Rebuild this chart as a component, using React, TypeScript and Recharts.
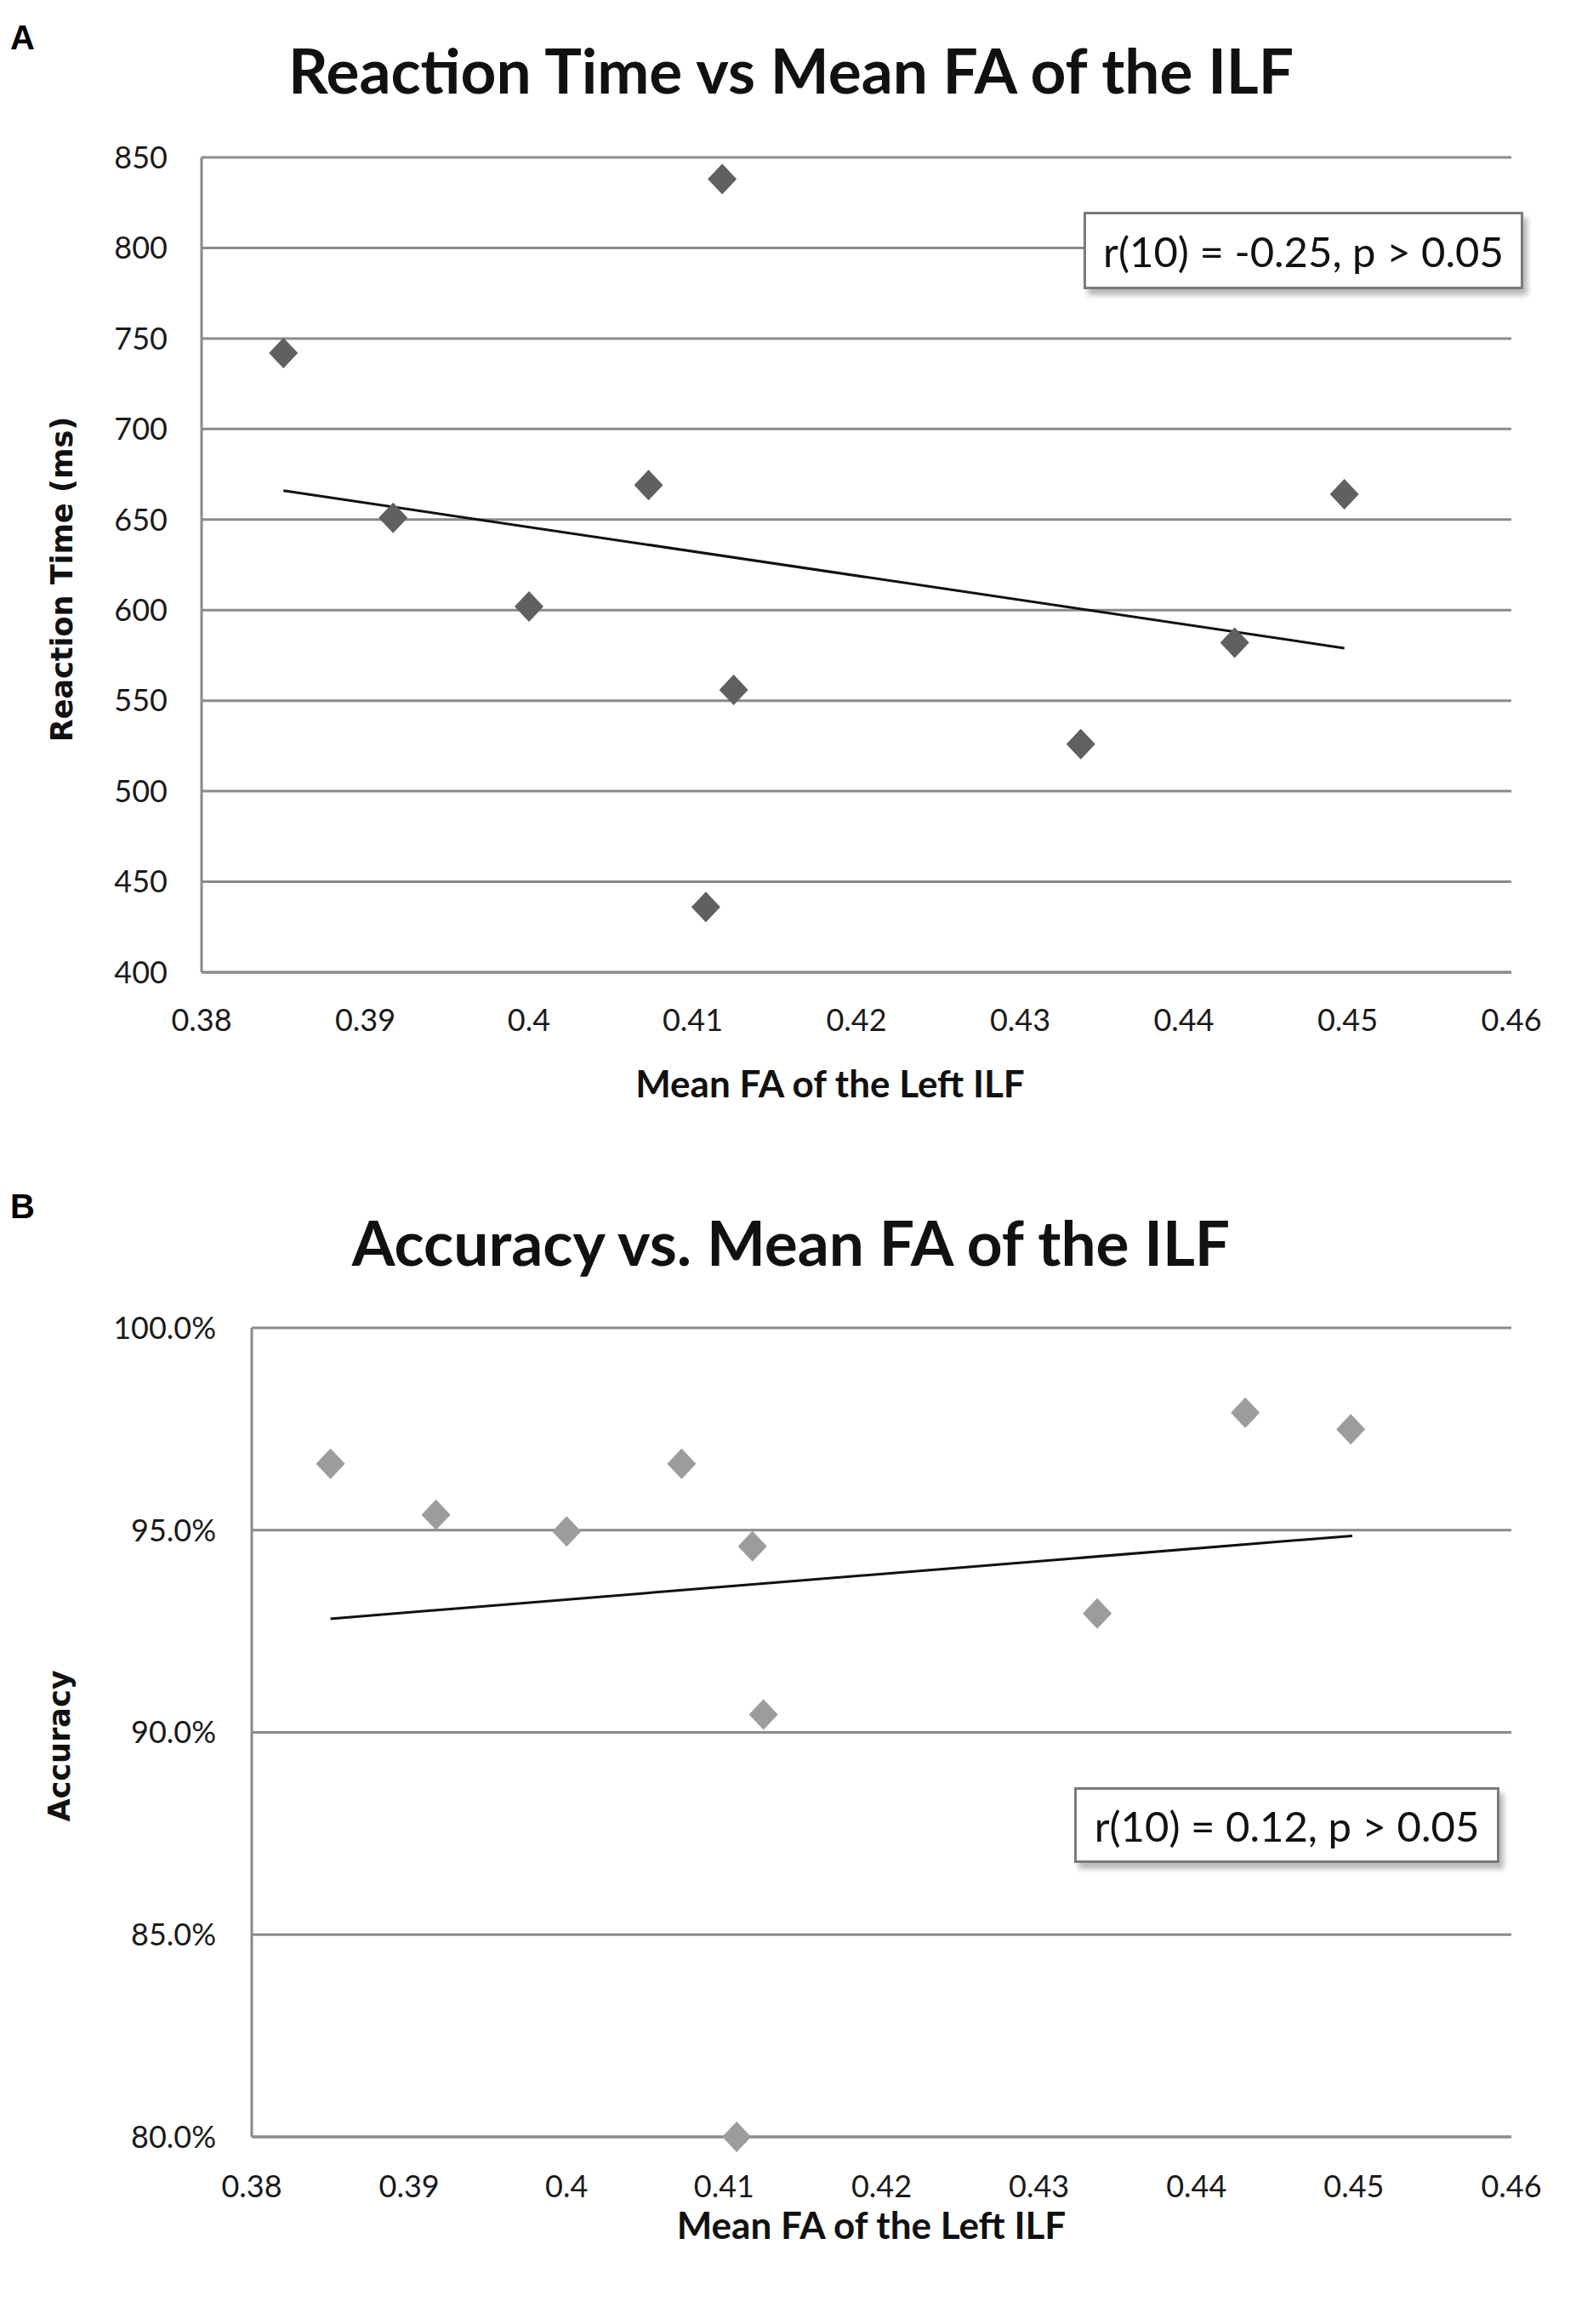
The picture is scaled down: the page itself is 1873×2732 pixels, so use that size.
import React from "react";
import {
  CartesianGrid,
  Label,
  ReferenceLine,
  Scatter,
  ScatterChart,
  XAxis,
  YAxis,
} from "recharts";

// mean FA of the left ILF, one value per participant (same order in both panels)
const faValues = [0.385, 0.3917, 0.4, 0.4073, 0.4118, 0.4125, 0.4108, 0.4337, 0.4431, 0.4498];
const reactionTimes = [742, 651, 602, 669, 838, 556, 436, 526, 582, 664];
const accuracies = [0.9664, 0.9538, 0.9497, 0.9664, 0.946, 0.9044, 0.8, 0.9294, 0.979, 0.9749];

// linear trendline end points as drawn
const rtTrendX = [0.385, 0.4498];
const rtTrendY = [666, 579];
const accTrendX = [0.385, 0.4499];
const accTrendY = [0.9281, 0.9486];

const faTicks = [0.38, 0.39, 0.4, 0.41, 0.42, 0.43, 0.44, 0.45, 0.46];
const rtTicks = [400, 450, 500, 550, 600, 650, 700, 750, 800, 850];
const accTicks = [0.8, 0.85, 0.9, 0.95, 1.0];

const rtData = faValues.map((x, i) => ({ x, y: reactionTimes[i] }));
const accData = faValues.map((x, i) => ({ x, y: accuracies[i] }));

const gridColor = "#8a8a8a";
const tickStyle = { fill: "#1a1a1a", fontSize: 36, fontFamily: "Lato" };
const xLabelStyle = { fill: "#111", fontSize: 44, fontWeight: 700, fontFamily: "Lato" };
const yLabelStyle = { fill: "#111", fontSize: 35, fontWeight: 700, fontFamily: "DejaVu Sans" };

const Diamond = (props: any) => {
  const { cx, cy, fill } = props;
  if (cx == null || cy == null) return <g />;
  const w = 17;
  const h = 18;
  return (
    <polygon
      points={`${cx},${cy - h} ${cx + w},${cy} ${cx},${cy + h} ${cx - w},${cy}`}
      fill={fill}
    />
  );
};

const yLabel = (text: string, x: number, dy: number) => (props: any) => {
  const vb = props.viewBox || {};
  const y = vb.y + vb.height / 2 + dy;
  return (
    <text
      x={x}
      y={y}
      transform={`rotate(-90 ${x} ${y})`}
      textAnchor="middle"
      dominantBaseline="central"
      style={yLabelStyle}
    >
      {text}
    </text>
  );
};

const StatBox = ({ left, top, width, height, text }: any) => (
  <div
    style={{
      position: "absolute",
      left,
      top,
      width,
      height,
      boxSizing: "border-box",
      border: "3px solid #7a7a7a",
      background: "#fff",
      boxShadow: "5px 7px 6px rgba(0,0,0,0.28)",
      fontFamily: "Lato",
      fontSize: 49,
      color: "#111",
      display: "flex",
      alignItems: "center",
      justifyContent: "center",
    }}
  >
    {text}
  </div>
);

const Title = ({ top, text }: any) => (
  <div
    style={{
      position: "absolute",
      left: 0,
      top,
      width: 1860,
      textAlign: "center",
      fontFamily: "Lato",
      fontWeight: 700,
      fontSize: 73,
      lineHeight: "80px",
      color: "#111",
    }}
  >
    {text}
  </div>
);

const PanelLetter = ({ top, text }: any) => (
  <div
    style={{
      position: "absolute",
      left: 12,
      top,
      fontFamily: "Liberation Sans",
      fontWeight: 700,
      fontSize: 40,
      lineHeight: "40px",
      color: "#000",
    }}
  >
    {text}
  </div>
);

export default function App() {
  return (
    <div
      style={{
        position: "absolute",
        left: 0,
        top: 0,
        width: 1873,
        height: 2732,
        background: "#fff",
        overflow: "hidden",
      }}
    >
      <PanelLetter top={24} text="A" />
      <Title top={42} text="Reaction Time vs Mean FA of the ILF" />

      <div style={{ position: "absolute", left: 0, top: 0 }}>
        <ScatterChart
          width={1873}
          height={1315}
          margin={{ top: 185, right: 96, bottom: 20, left: 0 }}
        >
          <CartesianGrid vertical={false} stroke={gridColor} strokeWidth={3} />
          <XAxis
            type="number"
            dataKey="x"
            domain={[0.38, 0.46]}
            ticks={faTicks}
            tickFormatter={(v: number) => String(v)}
            height={152}
            tickSize={0}
            tickMargin={43}
            tick={tickStyle}
            axisLine={{ stroke: gridColor, strokeWidth: 3 }}
            tickLine={false}
          >
            <Label
              value="Mean FA of the Left ILF"
              position="insideBottom"
              offset={5}
              dx={-31}
              style={xLabelStyle}
            />
          </XAxis>
          <YAxis
            type="number"
            dataKey="y"
            domain={[400, 850]}
            ticks={rtTicks}
            width={237}
            tickSize={0}
            tickMargin={40}
            tick={tickStyle}
            axisLine={{ stroke: gridColor, strokeWidth: 3 }}
            tickLine={false}
          >
            <Label content={yLabel("Reaction Time (ms)", 73, 17)} />
          </YAxis>
          <ReferenceLine
            segment={[
              { x: rtTrendX[0], y: rtTrendY[0] },
              { x: rtTrendX[1], y: rtTrendY[1] },
            ]}
            stroke="#111"
            strokeWidth={3}
          />
          <Scatter
            data={rtData}
            fill="#606060"
            shape={(p: any) => <Diamond {...p} fill="#606060" />}
            isAnimationActive={false}
          />
        </ScatterChart>
      </div>

      <StatBox left={1274} top={249} width={517} height={91} text="r(10) = -0.25, p > 0.05" />

      <PanelLetter top={1398} text="B" />
      <Title top={1420} text="Accuracy vs. Mean FA of the ILF" />

      <div style={{ position: "absolute", left: 0, top: 1400 }}>
        <ScatterChart
          width={1873}
          height={1257}
          margin={{ top: 161, right: 96, bottom: 20, left: 0 }}
        >
          <CartesianGrid vertical={false} stroke={gridColor} strokeWidth={3} />
          <XAxis
            type="number"
            dataKey="x"
            domain={[0.38, 0.46]}
            ticks={faTicks}
            tickFormatter={(v: number) => String(v)}
            height={125}
            tickSize={0}
            tickMargin={45}
            tick={tickStyle}
            axisLine={{ stroke: gridColor, strokeWidth: 3 }}
            tickLine={false}
          >
            <Label
              value="Mean FA of the Left ILF"
              position="insideBottom"
              offset={5}
              dx={-12}
              style={xLabelStyle}
            />
          </XAxis>
          <YAxis
            type="number"
            dataKey="y"
            domain={[0.8, 1.0]}
            ticks={accTicks}
            tickFormatter={(v: number) => `${(v * 100).toFixed(1)}%`}
            width={296}
            tickSize={0}
            tickMargin={42}
            tick={tickStyle}
            axisLine={{ stroke: gridColor, strokeWidth: 3 }}
            tickLine={false}
          >
            <Label content={yLabel("Accuracy", 70, 16)} />
          </YAxis>
          <ReferenceLine
            segment={[
              { x: accTrendX[0], y: accTrendY[0] },
              { x: accTrendX[1], y: accTrendY[1] },
            ]}
            stroke="#111"
            strokeWidth={3}
          />
          <Scatter
            data={accData}
            fill="#9c9c9c"
            shape={(p: any) => <Diamond {...p} fill="#9c9c9c" />}
            isAnimationActive={false}
          />
        </ScatterChart>
      </div>

      <StatBox left={1263} top={2101} width={500} height={89} text="r(10) = 0.12, p > 0.05" />
    </div>
  );
}
